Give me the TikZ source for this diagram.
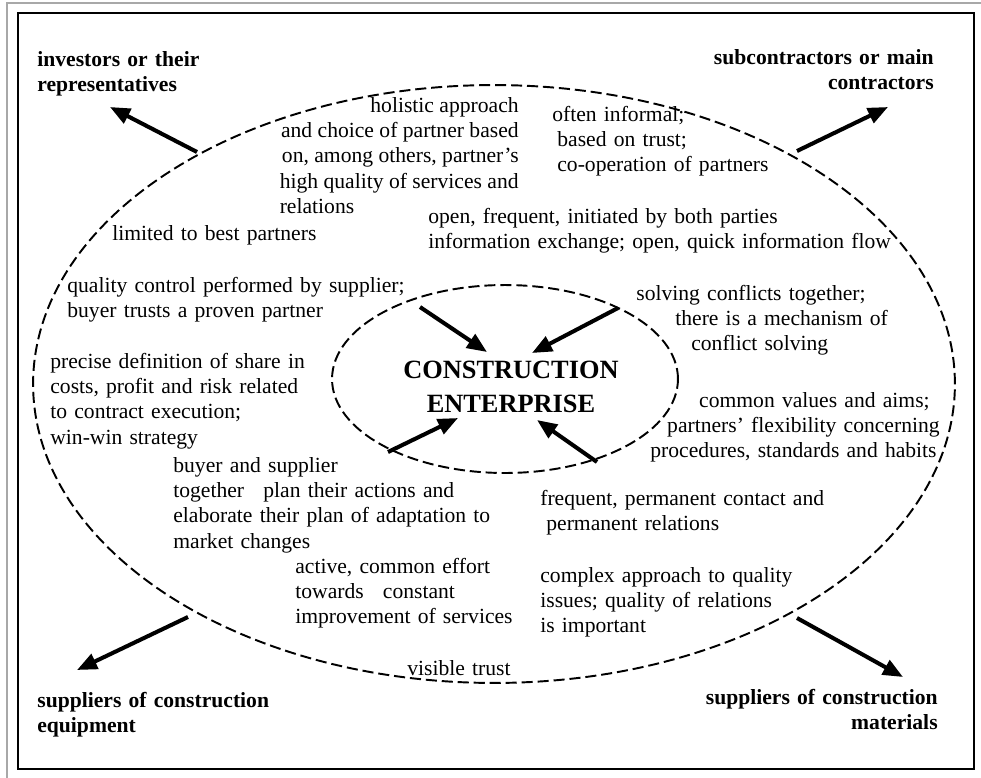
\documentclass[tikz,border=0pt]{standalone}
\usepackage{fontspec}
\setmainfont{Liberation Serif}
\usetikzlibrary{arrows.meta}
\definecolor{pagegray}{RGB}{168,168,168}

\tikzset{
  remark/.style={inner sep=0pt,anchor=base west,align=left,text width=#1,
    font=\fontsize{12.3}{14.5}\selectfont},
  remark/.default=9cm,
  party/.style={remark=#1,font=\fontsize{12.3}{14.5}\selectfont\bfseries},
  party/.default=6cm,
  ring/.style={line width=1.1pt,dash pattern=on 6.3pt off 2.8pt},
  link/.style={line width=2.3pt,-{Triangle[length=0.4cm,width=0.32cm]}}
}

\begin{document}
\begin{tikzpicture}[x=0.02cm,y=-0.02cm]
\useasboundingbox (0,0) rectangle (981,778);
\draw[pagegray,line width=0.6pt] (7,778) -- (7,3) -- (981,3);
\draw[line width=1.2pt] (18,13) rectangle (974,769);

% the two dashed rings
\draw[ring] (494,384) ellipse [x radius=9.22cm,y radius=5.98cm];
\draw[ring] (505,379) ellipse [x radius=3.46cm,y radius=1.88cm];

\node[inner sep=0pt,anchor=base,align=center,text width=5cm,
  font=\fontsize{15}{19.9}\selectfont\bfseries] (core) at (511,378) {CONSTRUCTION\\ENTERPRISE};

% partners in the corners
\node[party] (investors) at (37,66) {investors or their\\representatives};
\node[party,anchor=base east,align=right] (contractors) at (934,64) {subcontractors or main\\contractors};
\node[party] (equipment) at (37,707) {suppliers of construction\\equipment};
\node[party,anchor=base east,align=right] (materials) at (938,704) {suppliers of construction\\materials};

% what the relations look like
\node[inner sep=0pt,anchor=base east,font=\fontsize{12.3}{14.5}\selectfont] (holistic) at (519,112)
  {\begin{tabular}[t]{@{}r@{}}holistic approach\\and choice of partner based\\on, among others, partner's\\
   high quality of services and\\\multicolumn{1}{@{}l@{}}{relations}\end{tabular}};
\node[remark] (informal) at (552,121) {often informal;\\\hspace*{0.1cm}based on trust;\\\hspace*{0.1cm}co-operation of partners};
\node[remark=10cm] (open) at (428,223) {open, frequent, initiated by both parties\\information exchange; open, quick information flow};
\node[remark] (limited) at (112,240) {limited to best partners};
\node[remark] (quality) at (67,292) {quality control performed by supplier;\\buyer trusts a proven partner};
\node[remark] (share) at (50,368) {precise definition of share in\\costs, profit and risk related\\to contract execution;\\win-win strategy};
\node[remark] (plan) at (173,472) {buyer and supplier\\together\hspace{0.24cm} plan their actions and\\elaborate their plan of adaptation to\\market changes};
\node[remark] (effort) at (295,573) {active, common effort\\towards\hspace{0.24cm} constant\\improvement of services};
\node[remark] (trust) at (407,675) {visible trust};
\node[remark] (conflicts) at (636,300) {solving conflicts together;\\\hspace*{0.78cm}there is a mechanism of\\\hspace*{1.1cm}conflict solving};
\node[remark=6cm,anchor=base east,align=right] (values) at (940,407)
  {common values and aims;\kern0.2cm\\partners' flexibility concerning\\procedures, standards and habits\kern0.06cm};
\node[remark] (contact) at (540,505) {frequent, permanent contact and\\\hspace*{0.12cm}permanent relations};
\node[remark] (complex) at (540,582) {complex approach to quality\\issues; quality of relations\\is important};

% arrows out of the big ring
\coordinate (ring-nw) at (197,152); \coordinate (to-investors) at (110,107);
\coordinate (ring-ne) at (797,151); \coordinate (to-contractors) at (888,107);
\coordinate (ring-sw) at (188,617); \coordinate (to-equipment) at (77,670);
\coordinate (ring-se) at (797,618); \coordinate (to-materials) at (903,677);
\draw[link] (ring-nw) -- (to-investors);
\draw[link] (ring-ne) -- (to-contractors);
\draw[link] (ring-sw) -- (to-equipment);
\draw[link] (ring-se) -- (to-materials);

% arrows into the enterprise
\coordinate (core-nw) at (420,307); \coordinate (in-nw) at (487,352);
\coordinate (core-ne) at (618,308); \coordinate (in-ne) at (532,353);
\coordinate (core-sw) at (388,452); \coordinate (in-sw) at (458,418);
\coordinate (core-se) at (597,462); \coordinate (in-se) at (537,420);
\draw[link] (core-nw) -- (in-nw);
\draw[link] (core-ne) -- (in-ne);
\draw[link] (core-sw) -- (in-sw);
\draw[link] (core-se) -- (in-se);
\end{tikzpicture}
\end{document}
